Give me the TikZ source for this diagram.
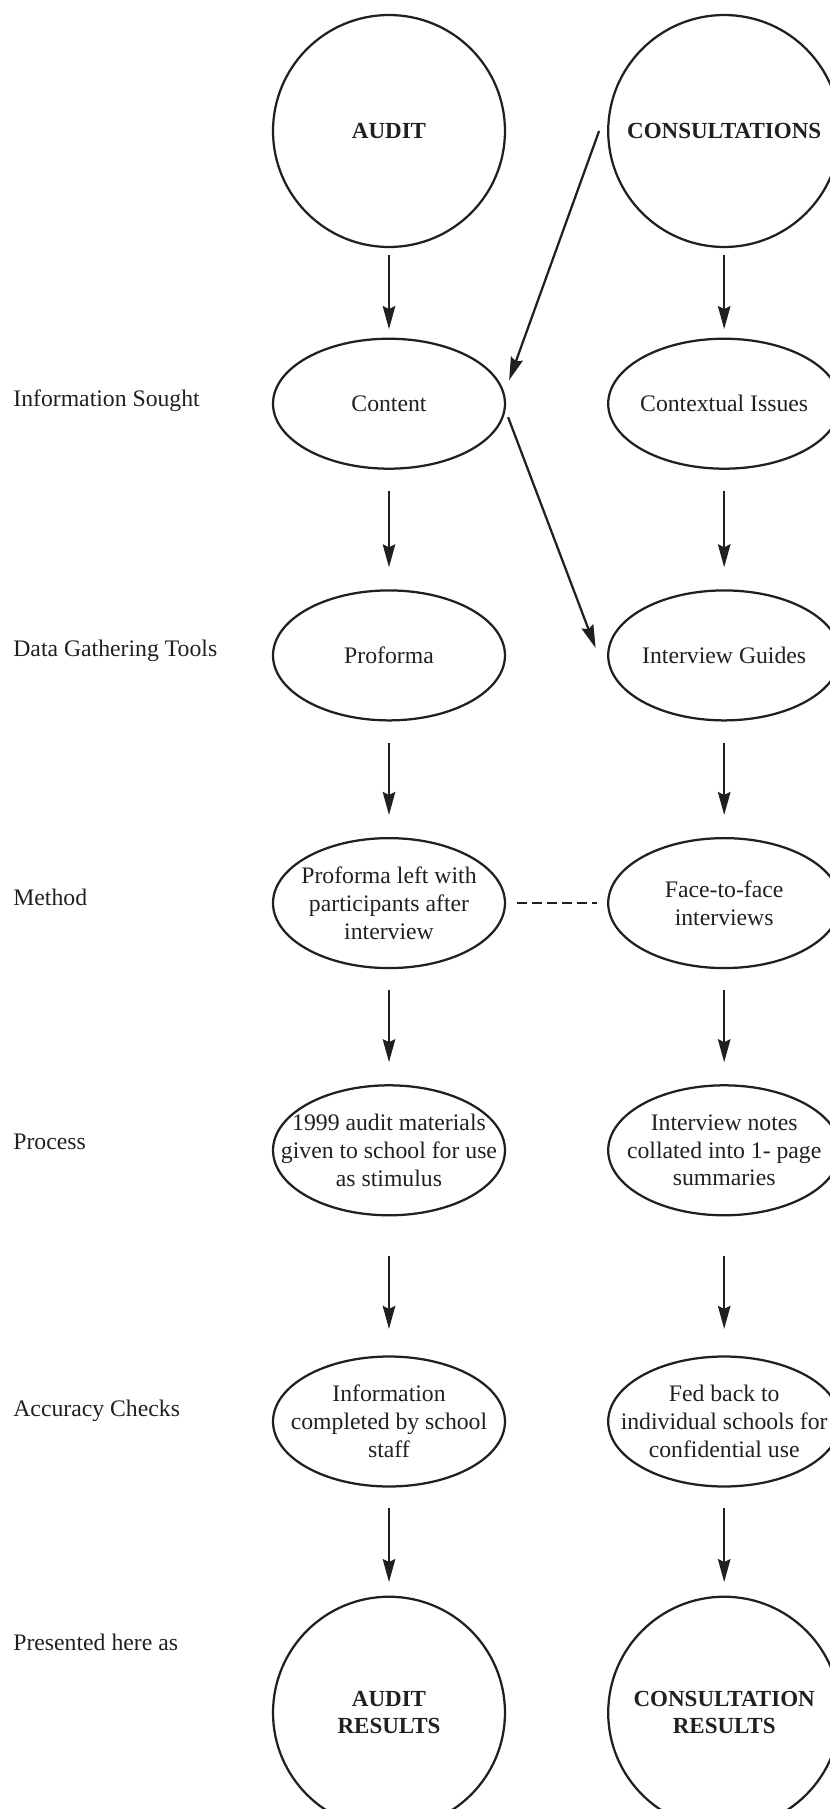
\documentclass[tikz,border=0pt]{standalone}
\usepackage{fontspec}
\setmainfont{Liberation Serif}
\usetikzlibrary{positioning, arrows.meta, shapes.geometric}
\definecolor{ink}{RGB}{35,31,32}

\begin{document}
\begin{tikzpicture}[
    x=0.02cm, y=-0.02cm,
    every node/.style={text=ink},
    disc/.style={draw=ink, circle, line width=0.045cm, minimum size=4.64cm, align=center, font=\fontsize{13.1}{15.4}\selectfont\bfseries},
    oval/.style={draw=ink, ellipse, line width=0.045cm, minimum width=4.64cm, minimum height=2.6cm, inner xsep=-0.6cm, inner ysep=0pt, align=center, font=\fontsize{13.5}{15.8}\selectfont},
    lbl/.style={anchor=west, inner sep=0pt, font=\fontsize{13.5}{15.8}\selectfont},
    arrow/.style={-{Stealth[length=0.46cm, width=0.25cm, inset=0.06cm]}, line width=0.045cm, draw=ink, shorten <=0.42cm, shorten >=0.44cm},
    link/.style={line width=0.045cm, draw=ink, dash pattern=on 0.19cm off 0.11cm}
]
\useasboundingbox (0,0) rectangle (830,1809);

% two columns
\node[disc] (audit) at (389,131) {AUDIT};
\node[disc, right=2.02cm of audit] (consult) {CONSULTATIONS};
\node[oval, below=1.79cm of audit] (content) {Content};
\node[oval, right=2.02cm of content] (issues) {Contextual Issues};
\node[oval, below=2.39cm of content] (proforma) {Proforma};
\node[oval, right=2.02cm of proforma] (guides) {Interview Guides};
\node[oval, below=2.31cm of proforma] (leftwith) {Proforma left with\\participants after\\interview};
\node[oval, right=2.02cm of leftwith] (facetoface) {Face-to-face\\interviews};
\node[oval, below=2.3cm of leftwith] (stimulus) {1999 audit materials\\given to school for use\\as stimulus};
\node[oval, right=2.02cm of stimulus] (summaries) {Interview notes\\collated into 1- page\\summaries};
\node[oval, below=2.78cm of stimulus] (completed) {Information\\completed by school\\staff};
\node[oval, right=2.02cm of completed] (fedback) {Fed back to\\individual schools for\\confidential use};
\node[disc, below=2.16cm of completed] (auditres) {AUDIT\\RESULTS};
\node[disc, right=2.02cm of auditres] (consultres) {CONSULTATION\\RESULTS};

% row labels
\node[lbl] (lsought) at (13,401) {Information Sought};
\node[lbl] (ltools) at (13,651) {Data Gathering Tools};
\node[lbl] (lmethod) at (13,897) {Method};
\node[lbl] (lprocess) at (13,1142) {Process};
\node[lbl] (lchecks) at (13,1411) {Accuracy Checks};
\node[lbl] (lpresented) at (13,1642) {Presented here as};

\draw[arrow, shorten <=0.14cm, shorten >=0.17cm] (audit) -- (content);
\draw[arrow, shorten <=0.14cm, shorten >=0.17cm] (consult) -- (issues);
\draw[arrow] (content) -- (proforma);
\draw[arrow] (issues) -- (guides);
\draw[arrow] (proforma) -- (leftwith);
\draw[arrow] (guides) -- (facetoface);
\draw[arrow] (leftwith) -- (stimulus);
\draw[arrow] (facetoface) -- (summaries);
\draw[arrow, shorten <=0.8cm, shorten >=0.53cm] (stimulus) -- (completed);
\draw[arrow, shorten <=0.8cm, shorten >=0.53cm] (summaries) -- (fedback);
\draw[arrow, shorten <=0.41cm, shorten >=0.27cm] (completed) -- (auditres);
\draw[arrow, shorten <=0.41cm, shorten >=0.27cm] (fedback) -- (consultres);

\draw[arrow, shorten <=0pt, shorten >=0pt] ([xshift=-0.16cm]consult.west) -- ([shift={(0.06cm,0.47cm)}]content.east);
\draw[arrow, shorten <=0pt, shorten >=0pt] ([shift={(0.04cm,-0.27cm)}]content.east) -- ([shift={(-0.23cm,0.15cm)}]guides.west);
\draw[link, shorten <=0.22cm, shorten >=0.2cm] (leftwith) -- (facetoface);

\end{tikzpicture}
\end{document}
